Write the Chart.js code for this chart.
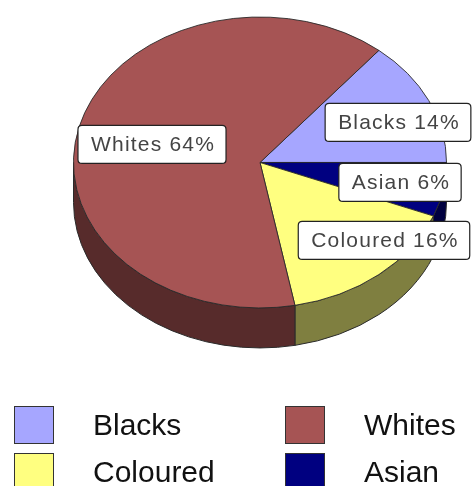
<!DOCTYPE html>
<html><head><meta charset="utf-8">
<script src="https://cdn.jsdelivr.net/npm/chart.js@4/dist/chart.umd.min.js"></script>
<style>html,body{margin:0;padding:0;background:#fff;overflow:hidden}#wrap{width:473px;height:486px;position:relative}</style>
</head><body><div id="wrap"><canvas id="c"></canvas></div>
<script>
// ---- data ----
const categories = ['Blacks', 'Asian', 'Coloured', 'Whites'];
const shares = [14, 6, 16, 64];
const legendOrder = ['Blacks', 'Whites', 'Coloured', 'Asian'];

// ---- styles ----
const topColours  = ['#a6a6ff', '#000080', '#ffff80', '#a65454'];
const sideColours = ['#6a6aa6', '#000040', '#7f7f40', '#572b2b'];
const TILT = 0.78, DEPTH = 40, TOP_MARGIN = 17;
const labelOffsets = { Blacks: [138, -40], Asian: [140, 20], Coloured: [124, 78], Whites: [-108, -18] };
const FONT = '"Liberation Sans", Arial, Helvetica, sans-serif';

function rrect(ctx, x, y, w, h, r) {
  ctx.beginPath();
  ctx.moveTo(x + r, y); ctx.lineTo(x + w - r, y); ctx.quadraticCurveTo(x + w, y, x + w, y + r);
  ctx.lineTo(x + w, y + h - r); ctx.quadraticCurveTo(x + w, y + h, x + w - r, y + h);
  ctx.lineTo(x + r, y + h); ctx.quadraticCurveTo(x, y + h, x, y + h - r);
  ctx.lineTo(x, y + r); ctx.quadraticCurveTo(x, y, x + r, y); ctx.closePath();
}

const tilt3d = {
  id: 'tilt3d',
  beforeDatasetsDraw(chart) {
    const meta = chart.getDatasetMeta(0);
    const a0 = meta.data[0];
    const cx = a0.x, cy = a0.y, R = a0.outerRadius;
    const ty = TOP_MARGIN + R * TILT;
    const ctx = chart.ctx;
    const TWO = Math.PI * 2;
    ctx.save();
    ctx.lineWidth = 1; ctx.strokeStyle = '#2a2a2a';
    meta.data.forEach((arc, i) => {
      const s0 = ((arc.startAngle % TWO) + TWO) % TWO;
      const e0 = s0 + (arc.endAngle - arc.startAngle);
      for (const off of [0, TWO]) {
        const a = Math.max(s0, off), b = Math.min(e0, off + Math.PI);
        if (b > a) {
          ctx.beginPath();
          ctx.ellipse(cx, ty, R, R * TILT, 0, a, b);
          ctx.ellipse(cx, ty + DEPTH, R, R * TILT, 0, b, a, true);
          ctx.closePath();
          ctx.fillStyle = sideColours[i];
          ctx.fill(); ctx.stroke();
        }
      }
    });
    ctx.restore();
    ctx.save();
    ctx.translate(cx, ty); ctx.scale(1, TILT); ctx.translate(-cx, -cy);
  },
  afterDatasetsDraw(chart) {
    const ctx = chart.ctx;
    ctx.restore();
    const meta = chart.getDatasetMeta(0);
    const a0 = meta.data[0];
    const cx = a0.x, R = a0.outerRadius;
    const ty = TOP_MARGIN + R * TILT;
    ctx.save();
    ctx.font = '21px ' + FONT;
    ctx.letterSpacing = '1.2px';
    ctx.textAlign = 'center'; ctx.textBaseline = 'middle';
    categories.forEach((c, i) => {
      const txt = c + ' ' + shares[i] + '%';
      const w = ctx.measureText(txt).width + 24, h = 38;
      const [dx, dy] = labelOffsets[c];
      const x = cx + dx, y = ty + dy;
      rrect(ctx, x - w / 2, y - h / 2, w, h, 4);
      ctx.fillStyle = '#ffffff'; ctx.fill();
      ctx.lineWidth = 1.2; ctx.strokeStyle = '#222'; ctx.stroke();
      ctx.fillStyle = '#444'; ctx.fillText(txt, x + 1, y + 1);
    });
    ctx.restore();
  },
  afterDraw(chart) {
    const ctx = chart.ctx;
    ctx.save();
    ctx.font = '30px ' + FONT;
    ctx.textAlign = 'left'; ctx.textBaseline = 'alphabetic';
    legendOrder.forEach((c, k) => {
      const i = categories.indexOf(c);
      const col = k % 2, row = Math.floor(k / 2);
      const bx = col ? 285 : 14, by = row ? 453 : 406;
      ctx.fillStyle = topColours[i];
      ctx.fillRect(bx, by, 39, 37);
      ctx.lineWidth = 1; ctx.strokeStyle = '#333';
      ctx.strokeRect(bx + 0.5, by + 0.5, 39, 37);
      ctx.fillStyle = '#111';
      ctx.fillText(c, bx + 79, by + 29);
    });
    ctx.restore();
  }
};

const startDeg = 90 + 360 * (1 - shares[0] / 100);
new Chart(document.getElementById('c'), {
  type: 'pie',
  data: { labels: categories, datasets: [{ data: shares, backgroundColor: topColours, borderColor: '#2a2a2a', borderWidth: 1 }] },
  options: {
    responsive: true, maintainAspectRatio: false, animation: false,
    rotation: startDeg,
    layout: { padding: { left: 73, right: 26, top: 0, bottom: 112 } },
    plugins: { legend: { display: false }, tooltip: { enabled: false } }
  },
  plugins: [tilt3d]
});
</script></body></html>
